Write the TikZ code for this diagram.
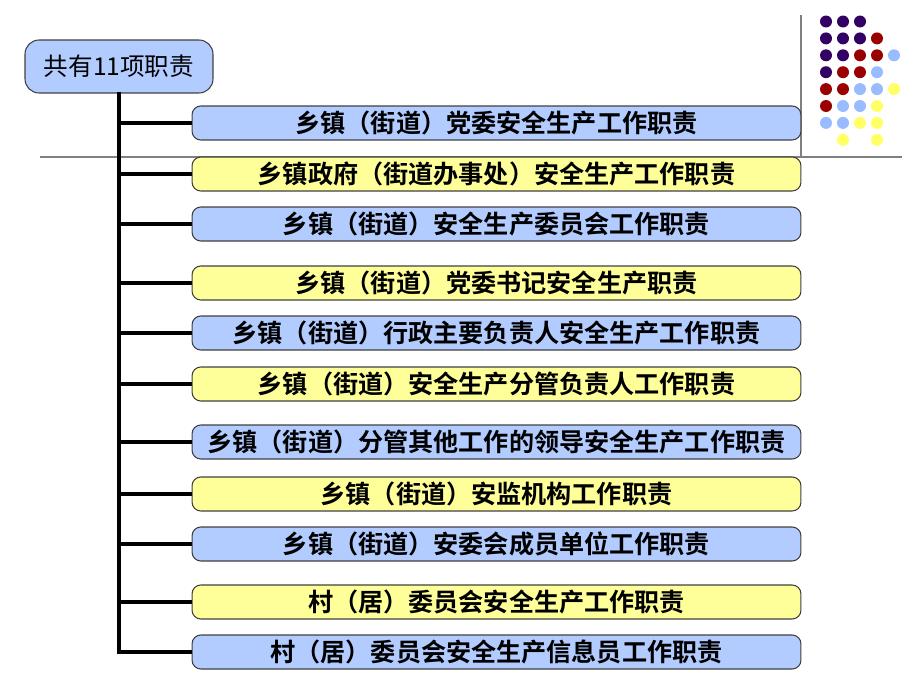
\documentclass[tikz,border=0pt]{standalone}
\usepackage{fontspec}
\setmainfont{Liberation Serif}
\newfontfamily\cjk{Noto Sans CJK SC}
\newfontfamily\cjkbold{Noto Sans CJK SC Bold}
\usetikzlibrary{calc,positioning}
\definecolor{dutyblue}{RGB}{179,204,255}
\definecolor{dutyyellow}{RGB}{255,255,153}
\definecolor{dotpurple}{RGB}{51,0,102}
\definecolor{dotred}{RGB}{153,0,0}
\definecolor{dotblue}{RGB}{153,187,255}
\definecolor{dotyellow}{RGB}{255,255,102}
\tikzset{
  dutybox/.style={draw=black!75, rounded corners=5pt, line width=0.6pt, minimum width=12.18cm, minimum height=0.68cm, inner sep=0pt, font=\cjkbold\fontsize{14.3}{14.3}\selectfont},
  headbox/.style={draw=black!75, fill=dutyblue, rounded corners=8pt, line width=0.6pt, minimum width=3.76cm, minimum height=1.06cm, inner sep=0pt, font=\cjk\fontsize{14}{14}\selectfont},
  trunk/.style={line width=2.2pt},
  dot/.style={radius=0.12cm}
}
\begin{document}
\begin{tikzpicture}[x=0.02cm, y=-0.02cm]
  \useasboundingbox (0,0) rectangle (920,690);
  % thin frame lines
  \draw[gray, line width=0.6pt] (40,157) -- (902,157);
  \draw[gray, line width=0.6pt] (801,15) -- (801,157);
  % dots, top right
  \foreach \c/\r/\col in {0/0/dotpurple,1/0/dotpurple,2/0/dotpurple,
    0/1/dotpurple,1/1/dotpurple,2/1/dotpurple,3/1/dotred,
    0/2/dotpurple,1/2/dotpurple,2/2/dotred,3/2/dotred,4/2/dotblue,
    0/3/dotpurple,1/3/dotred,2/3/dotred,3/3/dotblue,
    0/4/dotred,1/4/dotred,2/4/dotblue,3/4/dotblue,4/4/dotyellow,
    0/5/dotred,1/5/dotblue,2/5/dotblue,3/5/dotyellow,
    0/6/dotblue,1/6/dotblue,2/6/dotyellow,3/6/dotyellow,
    1/7/dotyellow,3/7/dotyellow}
    \fill[\col] ({826+17*\c},{21.5+16.9*\r}) circle[dot];
  % head
  \node[headbox] (head) at (119,66.5) {共有11项职责};
  % the eleven duties
  \foreach \i/\y/\col/\txt in {
    1/123/dutyblue/乡镇（街道）党委安全生产工作职责,
    2/174/dutyyellow/乡镇政府（街道办事处）安全生产工作职责,
    3/224/dutyblue/乡镇（街道）安全生产委员会工作职责,
    4/283/dutyyellow/乡镇（街道）党委书记安全生产职责,
    5/333/dutyblue/乡镇（街道）行政主要负责人安全生产工作职责,
    6/384/dutyyellow/乡镇（街道）安全生产分管负责人工作职责,
    7/442/dutyblue/乡镇（街道）分管其他工作的领导安全生产工作职责,
    8/494/dutyyellow/乡镇（街道）安监机构工作职责,
    9/544/dutyblue/乡镇（街道）安委会成员单位工作职责,
    10/602/dutyyellow/村（居）委员会安全生产工作职责,
    11/652/dutyblue/村（居）委员会安全生产信息员工作职责}
  {
    \node[dutybox, fill=\col] (duty\i) at (496.5,\y) {\txt};
    \draw[trunk] (duty\i.west) -- (head.south |- duty\i.west);
  }
  \draw[trunk, line cap=rect] (head.south) -- (head.south |- duty11.west);
\end{tikzpicture}
\end{document}
